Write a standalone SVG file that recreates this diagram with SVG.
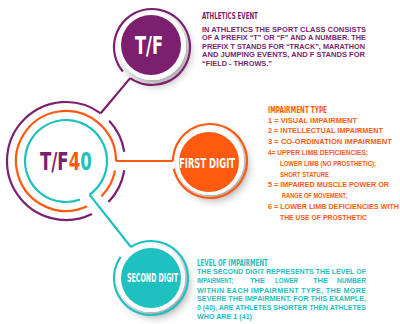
<svg xmlns="http://www.w3.org/2000/svg" width="400" height="324" viewBox="0 0 400 324">
<defs>
<filter id="sh" x="-40%" y="-40%" width="190%" height="190%">
<feDropShadow dx="4" dy="5" stdDeviation="4" flood-color="#000" flood-opacity="0.35"/>
</filter>
</defs>
<style>
.ring{fill:none;stroke-width:2.2;stroke-linecap:butt}
.p{stroke:#7b1f6e}.o{stroke:#ff5a10}.t{stroke:#1fc0c0}
.disc{fill:#fff}
.head{font-family:"DejaVu Sans Condensed","Liberation Sans Narrow",sans-serif;font-weight:bold}
.nlab{font-family:"DejaVu Sans Condensed","Liberation Sans Narrow",sans-serif;font-weight:bold;fill:#fff;text-anchor:middle}
.body{font-family:"Liberation Sans","Arial",sans-serif;font-weight:bold;font-size:7.2px}
.fp{fill:#7b1f6e}.fo{fill:#ff5a10}.ft{fill:#1fc0c0}
</style>
<rect width="400" height="324" fill="#fff"/>

<g id="connectors">
<line class="ring p" x1="130.2" y1="78.1" x2="100.7" y2="113.3"/>
<line class="ring o" x1="116" y1="161" x2="173" y2="161"/>
<line class="ring t" x1="89.5" y1="194.6" x2="130.9" y2="247"/>
</g>

<g id="tf40">
<path class="ring p" d="M100.68,113.27 A59,59 0 1 0 91.86,214.03"/>
<path class="ring p" d="M109.15,120.76 A59,59 0 0 1 124.27,151.77"/>
<path class="ring p" d="M124.27,170.23 A59,59 0 0 1 108.44,201.99"/>
<path class="ring o" d="M116,161 A50,50 0 1 0 87.13,206.32"/>
<path class="ring o" d="M115.08,170.54 A50,50 0 0 1 101.36,196.36"/>
<path class="ring t" d="M89.52,194.59 A41,41 0 1 0 80.02,199.53"/>
<text class="head" transform="translate(40,170) scale(0.768,1)" font-size="24"><tspan class="fp">T/F</tspan><tspan class="fo">4</tspan><tspan class="ft">0</tspan></text>
</g>

<g id="tf">
<circle class="disc" cx="152" cy="46" r="34" filter="url(#sh)"/>
<path class="ring p" d="M130.2,78.13 A38,38 0 1 0 122.89,71.43"/>
<circle class="fp" cx="151" cy="45" r="30"/>
<text class="nlab" transform="translate(149,54) scale(0.77,1)" font-size="24" textLength="36.4" lengthAdjust="spacingAndGlyphs">T/F</text>
</g>

<g id="first-digit">
<circle class="disc" cx="210" cy="161" r="34" filter="url(#sh)"/>
<path class="ring o" d="M173,161 A37,37 0 1 1 173.81,168.69"/>
<circle class="fo" cx="209" cy="162" r="30"/>
<text class="nlab" transform="translate(207,167.5) scale(0.675,1)" font-size="14" textLength="83" lengthAdjust="spacingAndGlyphs">FIRST DIGIT</text>
</g>

<g id="second-digit">
<circle class="disc" cx="151" cy="278" r="34" filter="url(#sh)"/>
<path class="ring t" d="M130.85,246.97 A37,37 0 1 1 120.69,256.78"/>
<circle class="ft" cx="151" cy="278" r="30"/>
<text class="nlab" transform="translate(152.5,282) scale(0.54,1)" font-size="13" textLength="94.4" lengthAdjust="spacingAndGlyphs">SECOND DIGIT</text>
</g>

<g id="athletics-text" class="fp">
<text class="head" transform="translate(202,18.5) scale(0.65,1)" font-size="9.5" textLength="86" lengthAdjust="spacingAndGlyphs">ATHLETICS EVENT</text>
<text class="body" x="202" y="31.8" textLength="164" lengthAdjust="spacingAndGlyphs">IN ATHLETICS THE SPORT CLASS CONSISTS</text>
<text class="body" x="202" y="40.2" textLength="164" lengthAdjust="spacingAndGlyphs">OF A PREFIX “T” OR “F” AND A NUMBER. THE</text>
<text class="body" x="202" y="48.5" textLength="163" lengthAdjust="spacingAndGlyphs">PREFIX T STANDS FOR “TRACK”, MARATHON</text>
<text class="body" x="202" y="56.8" textLength="163" lengthAdjust="spacingAndGlyphs">AND JUMPING EVENTS, AND F STANDS FOR</text>
<text class="body" x="202" y="65.8" textLength="70" lengthAdjust="spacingAndGlyphs">“FIELD - THROWS.”</text>
</g>

<g id="impairment-text" class="fo">
<text class="head" transform="translate(268,112.5) scale(0.65,1)" font-size="9.5" textLength="90.8" lengthAdjust="spacingAndGlyphs">IMPAIRMENT TYPE</text>
<text class="body" x="268" y="122.5" textLength="89" lengthAdjust="spacingAndGlyphs">1 = VISUAL IMPAIRMENT</text>
<text class="body" x="268" y="133.3" textLength="115" lengthAdjust="spacingAndGlyphs">2 = INTELLECTUAL IMPAIRMENT</text>
<text class="body" x="268" y="144.1" textLength="124" lengthAdjust="spacingAndGlyphs">3 = CO-ORDINATION IMPAIRMENT</text>
<text class="body" x="268" y="154.9" textLength="100" lengthAdjust="spacingAndGlyphs">4=  UPPER LIMB DEFICIENCIES;</text>
<text class="body" x="280" y="165.7" textLength="96" lengthAdjust="spacingAndGlyphs">LOWER LIMB (NO PROSTHETIC);</text>
<text class="body" x="280" y="176.5" textLength="49" lengthAdjust="spacingAndGlyphs">SHORT STATURE</text>
<text class="body" x="268" y="187.3" textLength="121" lengthAdjust="spacingAndGlyphs">5 = IMPAIRED MUSCLE POWER OR</text>
<text class="body" x="282" y="198.1" textLength="65" lengthAdjust="spacingAndGlyphs">RANGE OF MOVEMENT,</text>
<text class="body" x="268" y="208.9" textLength="131" lengthAdjust="spacingAndGlyphs">6 = LOWER LIMB DEFICIENCIES WITH</text>
<text class="body" x="280" y="219.7" textLength="87" lengthAdjust="spacingAndGlyphs">THE USE OF PROSTHETIC</text>
</g>

<g id="level-text" class="ft">
<text class="head" transform="translate(197,265.5) scale(0.65,1)" font-size="9.5" textLength="109" lengthAdjust="spacingAndGlyphs">LEVEL OF IMPAIRMENT</text>
<text class="body" x="197" y="274.2" textLength="169" lengthAdjust="spacingAndGlyphs">THE SECOND DIGIT REPRESENTS THE LEVEL OF</text>
<text class="body" x="197" y="283.2" textLength="36" lengthAdjust="spacingAndGlyphs">IMPAIRMENT;</text>
<text class="body" x="250" y="283.2" textLength="15" lengthAdjust="spacingAndGlyphs">THE</text>
<text class="body" x="275" y="283.2" textLength="23" lengthAdjust="spacingAndGlyphs">LOWER</text>
<text class="body" x="313" y="283.2" textLength="15" lengthAdjust="spacingAndGlyphs">THE</text>
<text class="body" x="337" y="283.2" textLength="29" lengthAdjust="spacingAndGlyphs">NUMBER</text>
<text class="body" x="197" y="292.5" textLength="169" lengthAdjust="spacing">WITHIN EACH IMPAIRMENT TYPE, THE MORE</text>
<text class="body" x="197" y="300.8" textLength="169" lengthAdjust="spacingAndGlyphs">SEVERE THE IMPAIRMENT. FOR THIS EXAMPLE,</text>
<text class="body" x="197" y="309.8" textLength="169" lengthAdjust="spacingAndGlyphs">0 (40), ARE ATHLETES SHORTER THEN ATHLETES</text>
<text class="body" x="197" y="318.5" textLength="55" lengthAdjust="spacingAndGlyphs">WHO ARE 1 (41)</text>
</g>
</svg>
